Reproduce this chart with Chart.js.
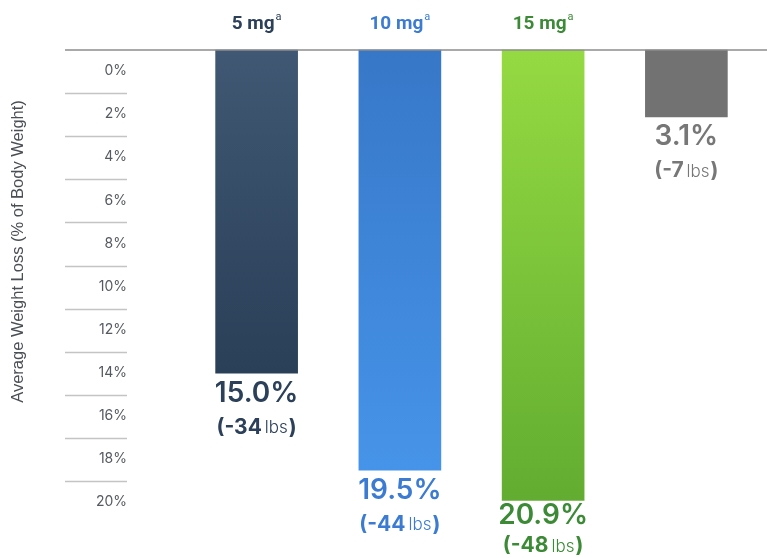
<!DOCTYPE html>
<html lang="en">

<head>
  <meta charset="UTF-8">
  <title>Average Weight Loss</title>
  <script src="https://cdn.jsdelivr.net/npm/chart.js"></script>
  <style>
    body { margin: 0; background: #fff; }
    #caixa { width: 767px; height: 558px; }
  </style>
</head>

<body>
  <div id="caixa">
    <canvas id="graf_peso" width="767" height="558"></canvas>
  </div>
</body>

</html>
<script>
  // dados
  var categorias = ['5 mg', '10 mg', '15 mg', 'Placebo'];
  var rotulosTopo = ['5 mg', '10 mg', '15 mg', ''];
  var perdaPercentual = [15.0, 19.5, 20.9, 3.1];
  var perdaLibras = [34, 44, 48, 7];
  var marcasEixo = [0, 2, 4, 6, 8, 10, 12, 14, 16, 18, 20];
  var tituloEixo = 'Average Weight Loss (% of Body Weight)';

  var coresTexto = ['#2c4059', '#3b7cd2', '#3c8a36', '#777777'];
  var gradientes = [
    ['#405873', '#2a3f58'],
    ['#3777c8', '#4694e9'],
    ['#95da42', '#62ad31'],
    ['#727272', '#727272']
  ];

  // desenha linha do topo, grades curtas, título, rótulos de cima e valores
  var pluginRotulos = {
    id: 'rotulos',
    afterDraw: function (chart) {
      var ctx = chart.ctx;
      var area = chart.chartArea;
      var eixoY = chart.scales.y;
      var eixoX = chart.scales.x;
      ctx.save();

      // linha do topo
      ctx.strokeStyle = '#8c8c8c';
      ctx.lineWidth = 1.5;
      ctx.beginPath();
      ctx.moveTo(65, area.top);
      ctx.lineTo(chart.width, area.top);
      ctx.stroke();

      // grades curtas do eixo
      ctx.strokeStyle = '#c4c4c4';
      for (var i = 1; i < marcasEixo.length; i++) {
        var y = Math.round(eixoY.getPixelForValue(marcasEixo[i])) + 0.5;
        ctx.beginPath();
        ctx.moveTo(65, y);
        ctx.lineTo(127, y);
        ctx.stroke();
      }

      // título do eixo y (um pouco acima do centro, como no original)
      ctx.save();
      ctx.translate(18, (area.top + area.bottom) / 2 - 14);
      ctx.rotate(-Math.PI / 2);
      ctx.fillStyle = '#4a4f55';
      ctx.font = '16.5px "Liberation Sans"';
      ctx.textAlign = 'center';
      ctx.textBaseline = 'middle';
      ctx.fillText(tituloEixo, 0, 0);
      ctx.restore();

      // rótulos de cima com o "a" sobrescrito
      ctx.textBaseline = 'alphabetic';
      for (var i = 0; i < rotulosTopo.length; i++) {
        if (!rotulosTopo[i]) continue;
        var cx = eixoX.getPixelForValue(i);
        ctx.font = 'bold 19px Roboto';
        var w1 = ctx.measureText(rotulosTopo[i]).width;
        ctx.font = '11px Roboto';
        var w2 = ctx.measureText('a').width + 1;
        var x0 = cx - (w1 + w2) / 2;
        ctx.fillStyle = coresTexto[i];
        ctx.font = 'bold 19px Roboto';
        ctx.textAlign = 'left';
        ctx.fillText(rotulosTopo[i], x0, 29);
        ctx.font = '11px Roboto';
        ctx.fillText('a', x0 + w1 + 1, 20);
      }

      // valores abaixo das barras
      var meta = chart.getDatasetMeta(0);
      for (var i = 0; i < meta.data.length; i++) {
        var barra = meta.data[i];
        var fim = barra.y;
        var yl = Math.min(fim + 54, chart.height - 12);
        var yp = Math.min(fim + 20, yl - 30);
        ctx.fillStyle = coresTexto[i];
        ctx.textAlign = 'center';
        ctx.textBaseline = 'middle';
        ctx.font = '600 28px Inter';
        ctx.fillText(perdaPercentual[i].toFixed(1) + '%', barra.x, yp);

        var parteA = '(-' + perdaLibras[i];
        var parteB = 'lbs';
        var parteC = ')';
        ctx.font = 'bold 21px Inter';
        var wa = ctx.measureText(parteA).width;
        var wc = ctx.measureText(parteC).width;
        ctx.font = '300 17px Inter';
        var wb = ctx.measureText(parteB).width;
        var total = wa + 3 + wb + 1 + wc;
        var x = barra.x - total / 2;
        ctx.textAlign = 'left';
        ctx.font = 'bold 21px Inter';
        ctx.fillText(parteA, x, yl);
        ctx.font = '300 17px Inter';
        ctx.fillText(parteB, x + wa + 3, yl + 1);
        ctx.font = 'bold 21px Inter';
        ctx.fillText(parteC, x + wa + 3 + wb + 1, yl);
      }
      ctx.restore();
    }
  };

  function corBarra(context) {
    var chart = context.chart;
    var area = chart.chartArea;
    var i = context.dataIndex;
    if (!area) return gradientes[i][0];
    var fim = chart.scales.y.getPixelForValue(perdaPercentual[i]);
    var g = chart.ctx.createLinearGradient(0, area.top, 0, fim);
    g.addColorStop(0, gradientes[i][0]);
    g.addColorStop(1, gradientes[i][1]);
    return g;
  }

  var ctx = document.getElementById('graf_peso').getContext('2d');
  var myChart = new Chart(ctx, {
    type: 'bar',
    data: {
      labels: categorias,
      datasets: [{
        label: 'Perda de peso',
        data: perdaPercentual,
        backgroundColor: corBarra,
        borderWidth: 0,
        barThickness: 82,
        clip: false
      }]
    },
    options: {
      responsive: false,
      animation: false,
      devicePixelRatio: 1,
      layout: { padding: { left: 0, right: 9, top: 0, bottom: 77 } },
      plugins: {
        legend: { display: false },
        tooltip: { enabled: false }
      },
      scales: {
        x: {
          position: 'top',
          grid: { display: false },
          border: { display: false },
          ticks: { display: false },
          afterFit: function (scale) { scale.height = 50; }
        },
        y: {
          reverse: true,
          min: 0,
          max: 20,
          grid: { display: false, drawTicks: false },
          border: { display: false },
          ticks: {
            stepSize: 2,
            padding: 58,
            labelOffset: 21,
            color: '#555a60',
            font: { family: 'Inter', size: 14 },
            callback: function (v) { return v + '%'; }
          },
          afterFit: function (scale) {
            scale.width = 185;
            // o padding dos ticks não deve empurrar a área do gráfico
            scale.paddingTop = 0;
            scale.paddingBottom = 0;
          }
        }
      }
    },
    plugins: [pluginRotulos]
  });
</script>
